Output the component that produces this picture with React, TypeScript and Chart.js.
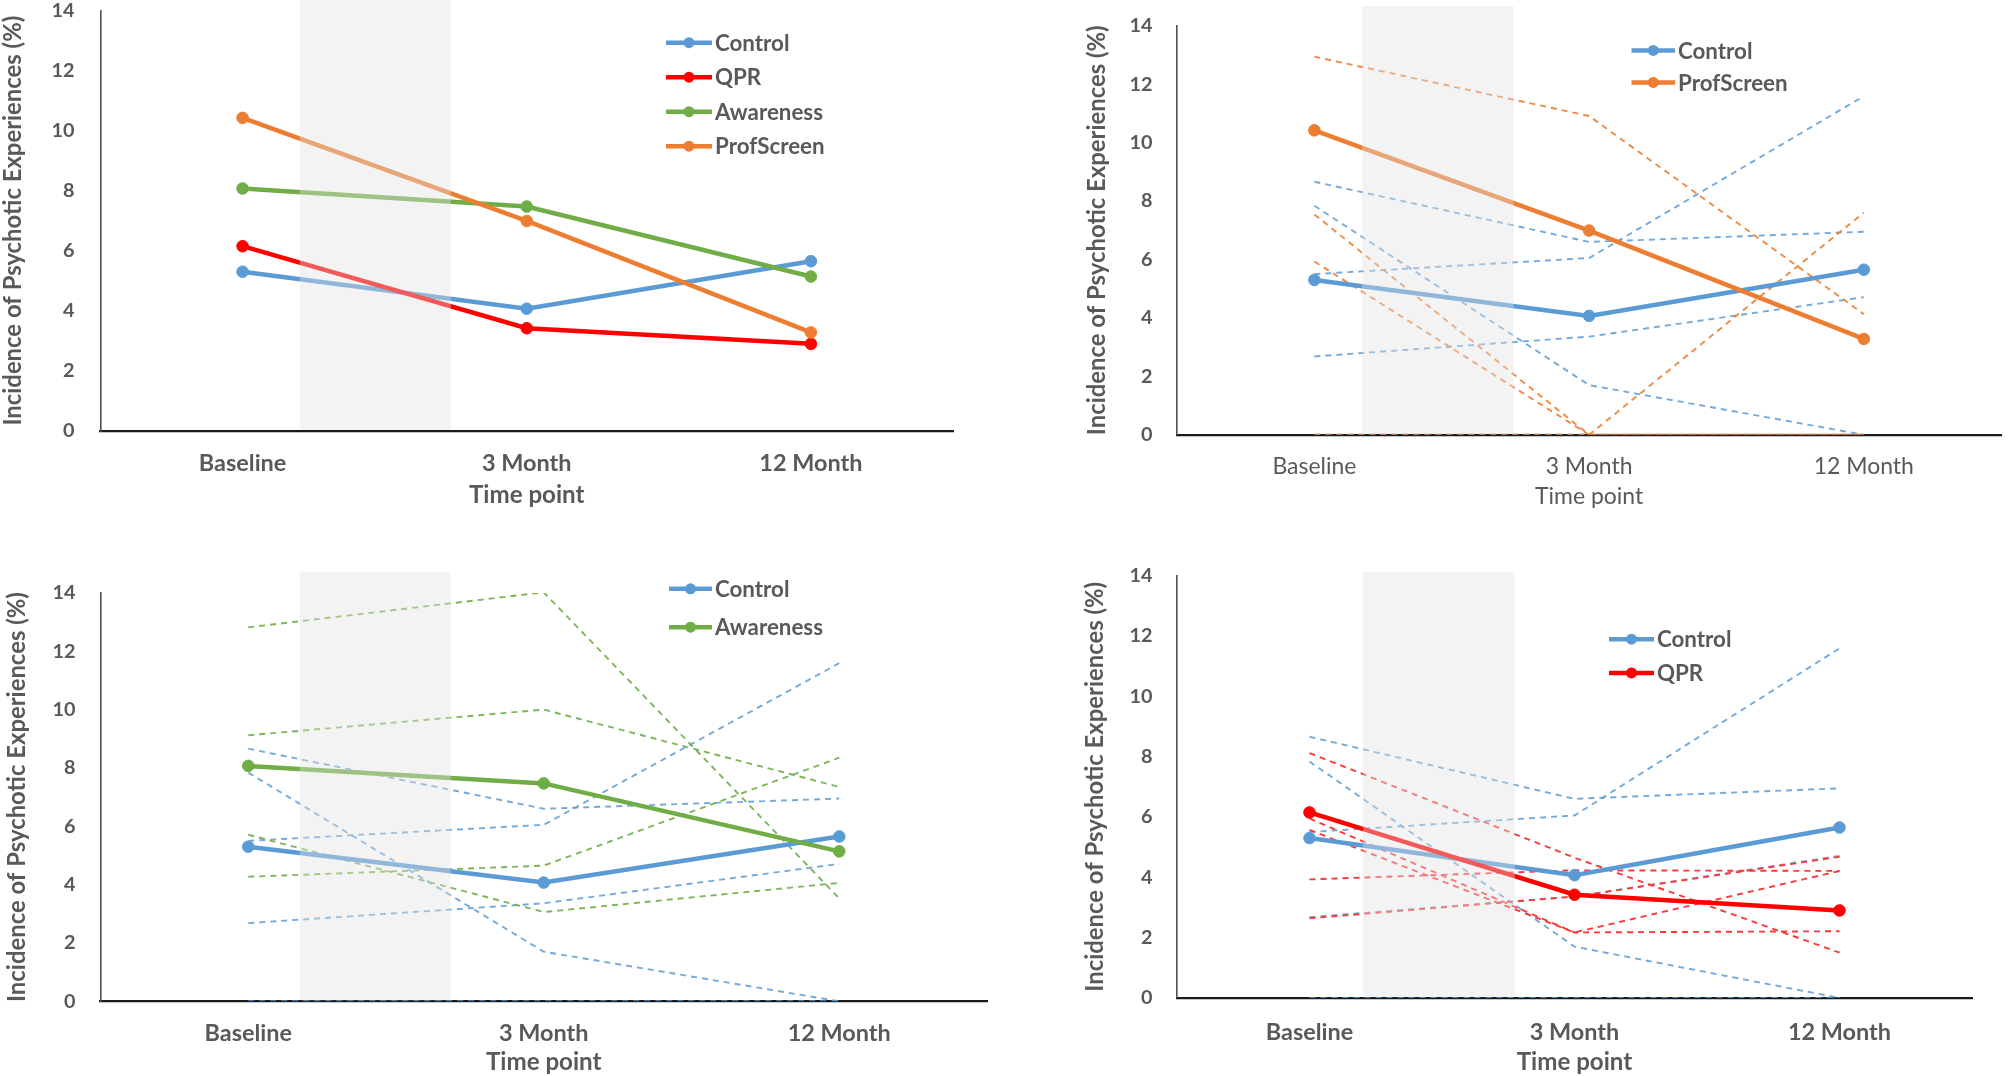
import React, { useEffect, useRef } from "react";
import { Chart, registerables } from "chart.js";

Chart.register(...registerables);

// ---------------- DATA ----------------
const categories = ["Baseline", "3 Month", "12 Month"];
const yTickMin = 0;
const yTickMax = 14;
const yTickStep = 2;
const yAxisTitle = "Incidence of Psychotic Experiences (%)";
const xAxisTitle = "Time point";

// group means (solid lines)
const controlMean = [5.3, 4.07, 5.65];
const qprMean = [6.15, 3.42, 2.9];
const awarenessMean = [8.07, 7.47, 5.14];
const profScreenMean = [10.42, 6.99, 3.28];

// individual schools (dashed lines)
const controlSchoolA = [8.66, 6.6, 6.95];
const controlSchoolB = [5.5, 6.05, 11.59];
const controlSchoolC = [7.84, 1.7, 0];
const controlSchoolD = [2.68, 3.36, 4.71];
const controlSchoolE = [0, 0, 0];

const profScreenSchoolA = [12.94, 10.91, 4.13];
const profScreenSchoolB = [7.54, 0, 7.6];
const profScreenSchoolC = [5.93, 0, 0];
const profScreenSchoolD = [0, 0, 0];

const awarenessSchoolA = [12.82, 14.02, 3.53];
const awarenessSchoolB = [9.12, 10.0, 7.35];
const awarenessSchoolC = [4.27, 4.65, 8.35];
const awarenessSchoolD = [5.71, 3.06, 4.06];

const qprSchoolA = [8.12, 4.65, 1.5];
const qprSchoolB = [3.93, 4.23, 4.21];
const qprSchoolC = [2.64, 3.36, 4.68];
const qprSchoolD = [5.95, 2.17, 2.21];
const qprSchoolE = [5.57, 2.17, 4.21];

// ---------------- STYLE ----------------
const COLORS = {
  control: "#5B9BD5",
  qpr: "#FF0000",
  awareness: "#70AD47",
  profScreen: "#ED7D31",
};
const DASH_COLORS = {
  control: "rgba(91,155,213,0.85)",
  qpr: "rgb(255,55,55)",
  awareness: "rgba(112,173,71,0.9)",
  profScreen: "rgba(237,125,49,0.9)",
};
const TEXT = "#595959";
const FONT = "Lato";
const W = 1004;
const H = 538;

function fitFont(text: string, weight: string, target: number): number {
  const c = document.createElement("canvas").getContext("2d")!;
  c.font = `${weight} 100px ${FONT}`;
  const w = c.measureText(text).width || 100;
  return Math.round((100 * target * 100) / w) / 100;
}

type Series = { label: string; data: number[]; color: string; order: number };
type Dashed = { data: number[]; color: string; order: number };

const controlDashed: Dashed[] = [controlSchoolA, controlSchoolB, controlSchoolC, controlSchoolD, controlSchoolE].map(
  (d) => ({ data: d, color: DASH_COLORS.control, order: 30 })
);

const panels = [
  {
    x: 0, y: 0,
    area: { left: 100.5, top: 10.3, right: 953, bottom: 431 },
    yTickPad: 26, yTitleCenter: 13, xTickCenter: 463, xTitleCenter: 495, bold: true,
    legend: { x: 666, y: 42.7, dy: 34.5, len: 46 },
    shade: { from: 0.201, to: 0.733, top: 14.35 },
    main: [
      { label: "Control", data: controlMean, color: COLORS.control, order: 4 },
      { label: "QPR", data: qprMean, color: COLORS.qpr, order: 3 },
      { label: "Awareness", data: awarenessMean, color: COLORS.awareness, order: 2 },
      { label: "ProfScreen", data: profScreenMean, color: COLORS.profScreen, order: 1 },
    ] as Series[],
    dashed: [] as Dashed[],
  },
  {
    x: 1004, y: 0,
    area: { left: 173, top: 25.7, right: 1001, bottom: 434.8 },
    yTickPad: 24.5, yTitleCenter: 93, xTickCenter: 466.2, xTitleCenter: 496.7, bold: false,
    legend: { x: 627.5, y: 50.4, dy: 32, len: 43.5 },
    shade: { from: 0.174, to: 0.725, top: 14.67 },
    main: [
      { label: "Control", data: controlMean, color: COLORS.control, order: 2 },
      { label: "ProfScreen", data: profScreenMean, color: COLORS.profScreen, order: 1 },
    ] as Series[],
    dashed: [
      ...controlDashed,
      ...[profScreenSchoolA, profScreenSchoolB, profScreenSchoolC, profScreenSchoolD].map((d) => ({
        data: d, color: DASH_COLORS.profScreen, order: 20,
      })),
    ] as Dashed[],
  },
  {
    x: 0, y: 538,
    area: { left: 100.5, top: 54.9, right: 987, bottom: 463.3 },
    yTickPad: 25, yTitleCenter: 17, xTickCenter: 495.9, xTitleCenter: 524.5, bold: true,
    legend: { x: 669, y: 50.8, dy: 38.4, len: 43 },
    shade: { from: 0.174, to: 0.685, top: 14.71 },
    main: [
      { label: "Control", data: controlMean, color: COLORS.control, order: 2 },
      { label: "Awareness", data: awarenessMean, color: COLORS.awareness, order: 1 },
    ] as Series[],
    dashed: [
      ...controlDashed,
      ...[awarenessSchoolA, awarenessSchoolB, awarenessSchoolC, awarenessSchoolD].map((d) => ({
        data: d, color: DASH_COLORS.awareness, order: 20,
      })),
    ] as Dashed[],
  },
  {
    x: 1004, y: 538,
    area: { left: 173, top: 37.7, right: 968, bottom: 459.9 },
    yTickPad: 24.5, yTitleCenter: 91, xTickCenter: 494.2, xTitleCenter: 524.5, bold: true,
    legend: { x: 605, y: 101.2, dy: 33.7, len: 45 },
    shade: { from: 0.202, to: 0.775, top: 14.12 },
    main: [
      { label: "Control", data: controlMean, color: COLORS.control, order: 2 },
      { label: "QPR", data: qprMean, color: COLORS.qpr, order: 1 },
    ] as Series[],
    dashed: [
      ...controlDashed,
      ...[qprSchoolA, qprSchoolB, qprSchoolC, qprSchoolD, qprSchoolE].map((d) => ({
        data: d, color: DASH_COLORS.qpr, order: 20,
      })),
    ] as Dashed[],
  },
];

type PanelSpec = (typeof panels)[number];

function buildConfig(p: PanelSpec): any {
  const fonts = {
    tick: fitFont("12", "bold", 23),
    catB: fitFont("Baseline", "bold", 87.5),
    catR: fitFont("Baseline", "normal", 84),
    xTitleB: fitFont("Time point", "bold", 115.6),
    xTitleR: fitFont("Time point", "normal", 108.3),
    yTitle: fitFont(yAxisTitle, "bold", 410),
    legend: fitFont("Control", "bold", 74.5),
  };
  const catSize = p.bold ? fonts.catB : fonts.catR;
  const catWeight = p.bold ? "bold" : "normal";
  const xtSize = p.bold ? fonts.xTitleB : fonts.xTitleR;
  const lh = 1.2;

  const datasets: any[] = [
    ...p.main.map((s) => ({
      label: s.label,
      data: s.data,
      borderColor: s.color,
      backgroundColor: s.color,
      borderWidth: 4.5,
      pointRadius: 5.8,
      pointHoverRadius: 5.8,
      pointBackgroundColor: s.color,
      pointBorderColor: s.color,
      pointBorderWidth: 1,
      tension: 0,
      fill: false,
      order: s.order,
    })),
    ...p.dashed.map((d) => ({
      label: "",
      data: d.data,
      borderColor: d.color,
      borderWidth: 1.9,
      borderDash: [6, 5],
      pointRadius: 0,
      pointHoverRadius: 0,
      tension: 0,
      fill: false,
      order: d.order,
    })),
  ];

  const shadePlugin = {
    id: "shade",
    afterDatasetsDraw(chart: any) {
      const { ctx, scales } = chart;
      const xs = scales.x;
      const ys = scales.y;
      const x0 = xs.getPixelForValue(p.shade.from);
      const x1 = xs.getPixelForValue(p.shade.to);
      const y0 = ys.getPixelForValue(p.shade.top);
      const y1 = ys.getPixelForValue(0) - 1;
      ctx.save();
      ctx.fillStyle = "rgba(225,225,225,0.4)";
      ctx.fillRect(x0, y0, x1 - x0, y1 - y0);
      ctx.restore();
    },
  };

  const legendPlugin = {
    id: "customLegend",
    afterDraw(chart: any) {
      const { ctx } = chart;
      ctx.save();
      p.main.forEach((s, i) => {
        const y = p.legend.y + i * p.legend.dy;
        ctx.strokeStyle = s.color;
        ctx.lineWidth = 4.5;
        ctx.beginPath();
        ctx.moveTo(p.legend.x, y);
        ctx.lineTo(p.legend.x + p.legend.len, y);
        ctx.stroke();
        ctx.fillStyle = s.color;
        ctx.beginPath();
        ctx.arc(p.legend.x + p.legend.len / 2, y, 5.5, 0, Math.PI * 2);
        ctx.fill();
        ctx.fillStyle = TEXT;
        ctx.font = `bold ${fonts.legend}px ${FONT}`;
        ctx.textAlign = "left";
        ctx.textBaseline = "middle";
        ctx.fillText(s.label, p.legend.x + p.legend.len + 3, y + 1);
      });
      ctx.restore();
    },
  };

  const xTitleLH = xtSize * lh;
  const catLH = catSize * lh;
  const yTitleLH = fonts.yTitle * lh;

  return {
    type: "line",
    data: { labels: categories, datasets },
    options: {
      responsive: false,
      animation: false,
      events: [],
      layout: {
        padding: { left: 0, top: p.area.top, right: W - p.area.right, bottom: 0 },
      },
      plugins: {
        legend: { display: false },
        tooltip: { enabled: false },
        title: { display: false },
      },
      scales: {
        x: {
          type: "category",
          offset: true,
          grid: { display: false, drawTicks: false },
          border: { display: true, color: "#1a1a1a", width: 2.2 },
          ticks: {
            color: TEXT,
            font: { family: FONT, size: catSize, weight: catWeight, lineHeight: lh },
            padding: p.xTickCenter - p.area.bottom - catLH / 2,
            maxRotation: 0,
            autoSkip: false,
          },
          title: {
            display: true,
            text: xAxisTitle,
            color: TEXT,
            font: { family: FONT, size: xtSize, weight: catWeight, lineHeight: lh },
            padding: { top: 0, bottom: H - p.xTitleCenter - xTitleLH / 2 },
          },
          afterFit: (s: any) => {
            s.height = H - p.area.bottom;
            s.paddingLeft = 0;
            s.paddingRight = 0;
          },
        },
        y: {
          min: yTickMin,
          max: yTickMax,
          grid: { display: false, drawTicks: false },
          border: { display: true, color: "#505050", width: 1.6 },
          ticks: {
            stepSize: yTickStep,
            color: TEXT,
            font: { family: FONT, size: fonts.tick, weight: "bold", lineHeight: lh },
            padding: p.yTickPad,
          },
          title: {
            display: true,
            text: yAxisTitle,
            color: TEXT,
            font: { family: FONT, size: fonts.yTitle, weight: "bold", lineHeight: lh },
            padding: { top: p.yTitleCenter - yTitleLH / 2, bottom: 0 },
          },
          afterFit: (s: any) => {
            s.width = p.area.left;
            s.paddingTop = 0;
            s.paddingBottom = 0;
          },
        },
      },
    },
    plugins: [shadePlugin, legendPlugin],
  };
}

function Panel({ spec }: { spec: PanelSpec }) {
  const ref = useRef<HTMLCanvasElement>(null);
  useEffect(() => {
    if (!ref.current) return;
    const chart = new Chart(ref.current, buildConfig(spec));
    return () => chart.destroy();
  }, [spec]);
  return (
    <canvas
      ref={ref}
      width={W}
      height={H}
      style={{ position: "absolute", left: spec.x, top: spec.y, width: W, height: H }}
    />
  );
}

export default function App() {
  return (
    <div
      style={{
        position: "fixed",
        left: 0,
        top: 0,
        width: 2008,
        height: 1076,
        background: "#ffffff",
        overflow: "hidden",
      }}
    >
      {panels.map((p, i) => (
        <Panel key={i} spec={p} />
      ))}
    </div>
  );
}
